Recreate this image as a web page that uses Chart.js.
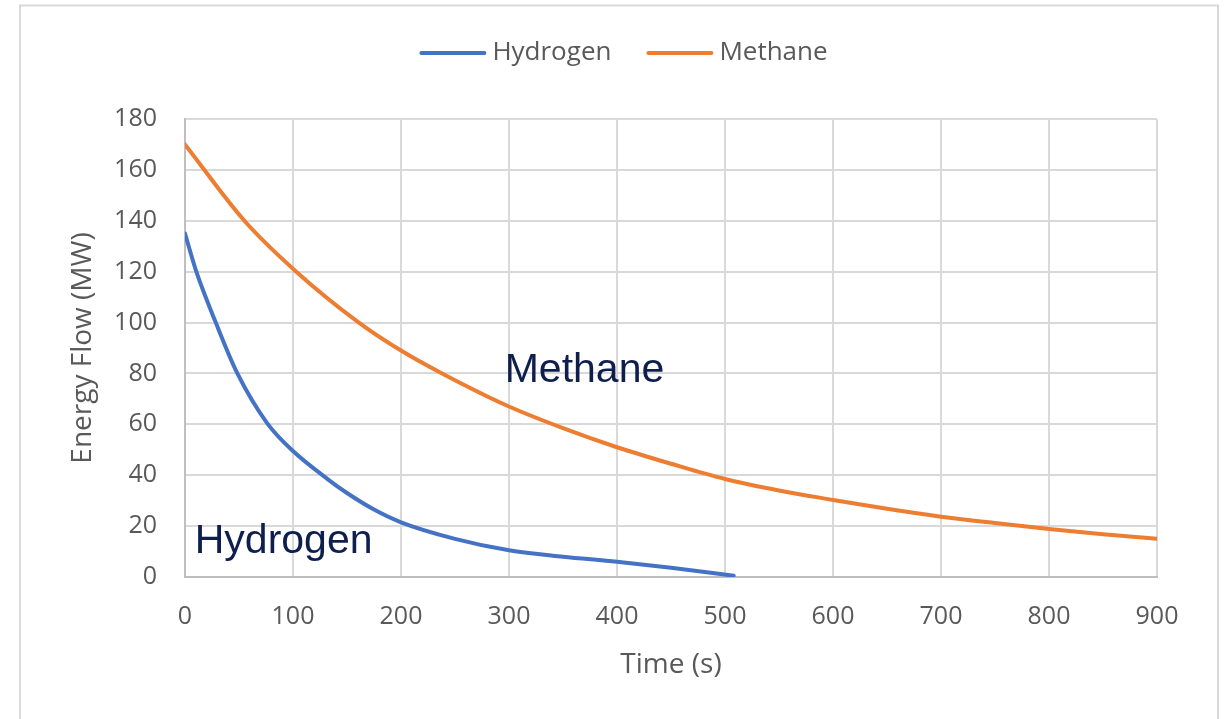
<!DOCTYPE html>
<html>
<head>
<meta charset="utf-8">
<script src="https://cdn.jsdelivr.net/npm/chart.js@4.4.1/dist/chart.umd.min.js"></script>
<style>
  html, body { margin: 0; padding: 0; background: #ffffff; }
  #wrap { width: 1225px; height: 719px; position: relative; }
</style>
</head>
<body>
<div id="wrap"><canvas id="c" width="1225" height="719"></canvas></div>
<script>
// ---- data ----
const hydrogenTime = [0, 10.5, 28.5, 48.5, 76, 100, 132, 150, 175, 200, 250, 300, 350, 400, 450, 508];
const hydrogenFlow = [135, 120, 100, 80, 60.5, 49.5, 38.5, 33, 26.5, 21.5, 15, 10.5, 8, 6, 3.6, 0.5];
const methaneTime = [0, 55, 103, 161, 200, 238, 300, 350, 400, 450, 500, 550, 600, 650, 700, 750, 800, 850, 900];
const methaneFlow = [170, 140, 120, 100, 89, 80, 67, 58.5, 51, 44.5, 38.5, 34, 30.3, 26.8, 23.7, 21.2, 18.9, 16.8, 15];
const xTicks = [0, 100, 200, 300, 400, 500, 600, 700, 800, 900];
const yTicks = [0, 20, 40, 60, 80, 100, 120, 140, 160, 180];
const seriesNames = ['Hydrogen', 'Methane'];
const seriesColors = ['#4472c4', '#ed7d31'];
const annotations = [
  { text: 'Methane', x: 296, y: 76.8 },
  { text: 'Hydrogen', x: 9, y: 9.3 }
];

const toPoints = (xs, ys) => xs.map((x, i) => ({ x: x, y: ys[i] }));

const frameAndLabels = {
  id: 'frameAndLabels',
  beforeDraw(chart) {
    const ctx = chart.ctx;
    ctx.save();
    ctx.fillStyle = '#ffffff';
    ctx.fillRect(0, 0, chart.width, chart.height);
    ctx.strokeStyle = '#d9d9d9';
    ctx.lineWidth = 2;
    ctx.strokeRect(20, 5.5, 1198, 800);
    ctx.restore();
  },
  afterDatasetsDraw(chart) {
    const ctx = chart.ctx;
    const xs = chart.scales.x, ys = chart.scales.y;
    ctx.save();
    ctx.fillStyle = '#0e1f4d';
    ctx.font = '41px "Liberation Sans", Arial, sans-serif';
    ctx.textAlign = 'left';
    ctx.textBaseline = 'alphabetic';
    annotations.forEach(a => {
      ctx.fillText(a.text, xs.getPixelForValue(a.x), ys.getPixelForValue(a.y));
    });
    ctx.restore();
  },
  afterDraw(chart) {
    // legend
    const ctx = chart.ctx;
    ctx.save();
    ctx.font = '26px "Open Sans", sans-serif';
    const lineLen = 67, gap = 6, itemGap = 35, cy = 53;
    const widths = chart.data.datasets.map(d => ctx.measureText(d.label).width);
    let total = 0;
    widths.forEach((w, i) => { total += lineLen + gap + w + (i ? itemGap : 0); });
    let x = 623.5 - total / 2;
    chart.data.datasets.forEach((d, i) => {
      ctx.strokeStyle = d.borderColor;
      ctx.lineWidth = 4;
      ctx.lineCap = 'round';
      ctx.beginPath();
      ctx.moveTo(x + 2, cy);
      ctx.lineTo(x + lineLen - 2, cy);
      ctx.stroke();
      x += lineLen + gap;
      ctx.fillStyle = '#595959';
      ctx.textAlign = 'left';
      ctx.textBaseline = 'middle';
      ctx.fillText(d.label, x, cy);
      x += widths[i] + itemGap;
    });
    ctx.restore();
  }
};

const tickFont = { family: '"Open Sans", sans-serif', size: 25 };
const titleFont = { family: '"Open Sans", sans-serif', size: 28 };

new Chart(document.getElementById('c'), {
  type: 'line',
  data: {
    datasets: [
      {
        label: seriesNames[0],
        data: toPoints(hydrogenTime, hydrogenFlow),
        borderColor: seriesColors[0],
        backgroundColor: seriesColors[0],
        borderWidth: 4,
        pointRadius: 0,
        cubicInterpolationMode: 'monotone',
        borderCapStyle: 'round'
      },
      {
        label: seriesNames[1],
        data: toPoints(methaneTime, methaneFlow),
        borderColor: seriesColors[1],
        backgroundColor: seriesColors[1],
        borderWidth: 4,
        pointRadius: 0,
        cubicInterpolationMode: 'monotone',
        borderCapStyle: 'round'
      }
    ]
  },
  options: {
    responsive: false,
    animation: false,
    events: [],
    layout: { padding: { left: 0, right: 68, top: 0, bottom: 0 } },
    plugins: {
      legend: { display: false },
      title: {
        display: true,
        text: '',
        font: { size: 10, lineHeight: 1 },
        padding: { top: 0, bottom: 109 }
      },
      tooltip: { enabled: false }
    },
    scales: {
      x: {
        type: 'linear',
        min: 0,
        max: 900,
        afterBuildTicks(axis) { axis.ticks = xTicks.map(v => ({ value: v })); },
        afterFit(axis) { axis.height = 142; },
        ticks: { color: '#595959', font: tickFont, padding: 25, maxRotation: 0 },
        grid: { color: '#d9d9d9', lineWidth: 2, drawTicks: false },
        border: { color: '#bfbfbf', width: 2 },
        title: {
          display: true,
          text: 'Time (s)',
          color: '#595959',
          font: titleFont,
          padding: { top: 0, bottom: 37 }
        }
      },
      y: {
        type: 'linear',
        min: 0,
        max: 180,
        afterBuildTicks(axis) { axis.ticks = yTicks.map(v => ({ value: v })); },
        afterFit(axis) { axis.width = 185; },
        ticks: { color: '#595959', font: tickFont, padding: 28 },
        grid: { color: '#d9d9d9', lineWidth: 2, drawTicks: false },
        border: { color: '#bfbfbf', width: 2 },
        title: {
          display: true,
          text: 'Energy Flow (MW)',
          color: '#595959',
          font: titleFont,
          padding: { top: 66, bottom: 0 }
        }
      }
    }
  },
  plugins: [frameAndLabels]
});
</script>
</body>
</html>
